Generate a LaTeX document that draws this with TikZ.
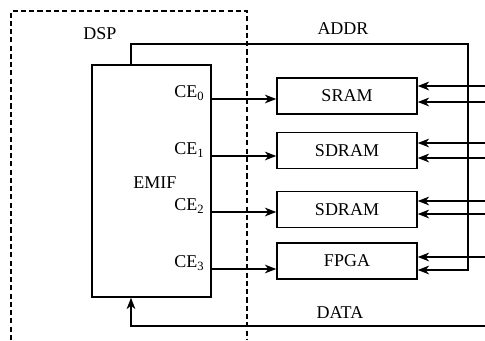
\documentclass[tikz,border=0pt]{standalone}
\usepackage{fontspec}
\setmainfont{Liberation Serif}
\usetikzlibrary{arrows.meta, positioning, calc}
\tikzset{
  %% -- memory / device boxes --
  EM/mem/.style={
    draw, line width=1.1pt, minimum width=105pt, minimum height=27pt,
    inner sep=0pt, font=\fontsize{13.5}{16}\selectfont
  },
  %% -- EMIF block --
  EM/emif/.style={
    draw, line width=1.1pt, minimum width=89pt, minimum height=174pt,
    inner sep=0pt, font=\fontsize{13.5}{16}\selectfont
  },
  %% -- plain labels --
  EM/lbl/.style={inner sep=1pt, font=\fontsize{13.5}{16}\selectfont},
  %% -- signal arrow --
  EM/arr/.style={-{Stealth[length=8.5pt, width=6.5pt, inset=2.5pt]}, line width=1.1pt},
  %% -- DSP chip boundary --
  EM/bound/.style={line width=0.9pt, dash pattern=on 3.8pt off 2.4pt},
}
\begin{document}
\begin{tikzpicture}[x=0.75pt, y=-0.75pt]
\useasboundingbox (0,0) rectangle (485,340);

%% DSP boundary (open at the bottom)
\draw[EM/bound] (11,340) -- (11,11) -- (247,11) -- (247,340);
\node[EM/lbl] (dsp) at (100,34) {DSP};

%% EMIF block
\node[EM/emif] (emif) at (151.5,181) {};
\node[EM/lbl] (emiflbl) at (155,183) {EMIF};

%% Chip-enable labels
\node[EM/lbl, anchor=south east] (ce0) at (206,102) {CE\textsubscript{0}};
\node[EM/lbl, anchor=south east] (ce1) at (206,159) {CE\textsubscript{1}};
\node[EM/lbl, anchor=south east] (ce2) at (206,215) {CE\textsubscript{2}};
\node[EM/lbl, anchor=south east] (ce3) at (206,272) {CE\textsubscript{3}};

%% Memory and FPGA boxes
\node[EM/mem] (sram)   at (347,96)    {SRAM};
\node[EM/mem] (sdramA) at (347,150.5) {SDRAM};
\node[EM/mem] (sdramB) at (347,209.5) {SDRAM};
\node[EM/mem] (fpga)   at (347,261)   {FPGA};

%% Chip-enable arrows
\coordinate (y0) at (0,99);
\coordinate (y1) at (0,156);
\coordinate (y2) at (0,212);
\coordinate (y3) at (0,269);
\draw[EM/arr] (emif.east |- y0) -- (sram.west |- y0);
\draw[EM/arr] (emif.east |- y1) -- (sdramA.west |- y1);
\draw[EM/arr] (emif.east |- y2) -- (sdramB.west |- y2);
\draw[EM/arr] (emif.east |- y3) -- (fpga.west |- y3);

%% ADDR bus
\coordinate (busx) at (131,0);
\coordinate (addrR) at (468,44);
\draw[EM/arr] (emif.north -| busx) -- (busx |- addrR) -- (addrR)
  -- (addrR |- 0,270) -- (fpga.east |- 0,270);
\node[EM/lbl] (addr) at (343,29) {ADDR};

%% DATA bus
\coordinate (dataR) at (485,326);
\draw[EM/arr] (dataR) -- (busx |- dataR) -- (emif.south -| busx);
\node[EM/lbl] (data) at (340,313) {DATA};

%% Incoming lines from the right edge
\coordinate (inA) at (485,86);
\coordinate (inB) at (485,102);
\coordinate (inC) at (485,143);
\coordinate (inD) at (485,158);
\coordinate (inE) at (485,201);
\coordinate (inF) at (485,214);
\coordinate (inG) at (485,257);
\draw[EM/arr] (inA) -- (sram.east |- inA);
\draw[EM/arr] (inB) -- (sram.east |- inB);
\draw[EM/arr] (inC) -- (sdramA.east |- inC);
\draw[EM/arr] (inD) -- (sdramA.east |- inD);
\draw[EM/arr] (inE) -- (sdramB.east |- inE);
\draw[EM/arr] (inF) -- (sdramB.east |- inF);
\draw[EM/arr] (inG) -- (fpga.east |- inG);

\end{tikzpicture}
\end{document}
